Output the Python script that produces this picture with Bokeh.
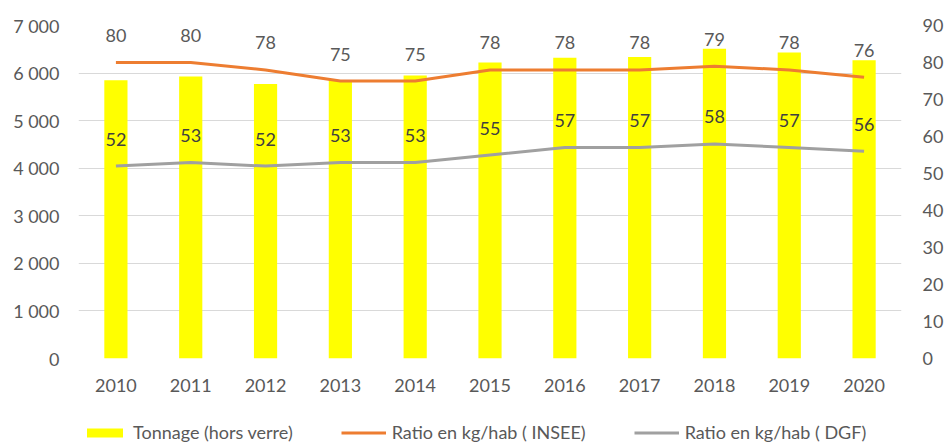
from bokeh.plotting import figure
from bokeh.models import (ColumnDataSource, Range1d, LinearAxis, FixedTicker,
                          LabelSet, Legend, LegendItem, FactorRange)
from bokeh.layouts import column
from bokeh.core.properties import value
from bokeh.embed import file_html
from bokeh.resources import INLINE

years = ["2010", "2011", "2012", "2013", "2014", "2015", "2016", "2017", "2018", "2019", "2020"]
tonnage = [5850, 5930, 5770, 5850, 5950, 6220, 6320, 6340, 6510, 6430, 6270]
ratio_insee = [80, 80, 78, 75, 75, 78, 78, 78, 79, 78, 76]
ratio_dgf = [52, 53, 52, 53, 53, 55, 57, 57, 58, 57, 56]

left_ticks = [0, 1000, 2000, 3000, 4000, 5000, 6000, 7000]
left_tick_labels = ["0", "1 000", "2 000", "3 000", "4 000", "5 000", "6 000", "7 000"]
right_ticks = [0, 10, 20, 30, 40, 50, 60, 70, 80, 90]
series_names = ["Tonnage (hors verre)", "Ratio en kg/hab ( INSEE)", "Ratio en kg/hab ( DGF)"]

FONT = "Lato"
TXT = "#595959"
YELLOW, ORANGE, GREY = "#FFFF00", "#ED7D31", "#A0A0A0"

src = ColumnDataSource(dict(
    year=years, tonnage=tonnage, insee=ratio_insee, dgf=ratio_dgf,
    insee_lbl=[str(v) for v in ratio_insee], dgf_lbl=[str(v) for v in ratio_dgf],
))

p = figure(width=946, height=410, x_range=FactorRange(*years, range_padding=0),
           y_range=Range1d(0, 7000), output_backend="svg", toolbar_location=None,
           min_border_left=78, min_border_right=45, min_border_top=25, min_border_bottom=52)
p.extra_y_ranges = {"r": Range1d(0, 90)}
p.outline_line_color = None
p.background_fill_color = "white"
p.border_fill_color = "white"

p.vbar(x="year", top="tonnage", width=0.31, source=src, color=YELLOW, line_color=None)
p.line(x="year", y="insee", source=src, y_range_name="r", line_color=ORANGE, line_width=3)
p.line(x="year", y="dgf", source=src, y_range_name="r", line_color=GREY, line_width=3)

p.add_layout(LabelSet(x="year", y="insee", text="insee_lbl", source=src, y_range_name="r",
                      y_offset=27, text_align="center", text_baseline="middle",
                      text_font=value(FONT), text_font_size=value("18px"), text_color=TXT))
p.add_layout(LabelSet(x="year", y="dgf", text="dgf_lbl", source=src, y_range_name="r",
                      y_offset=27, text_align="center", text_baseline="middle",
                      text_font=value(FONT), text_font_size=value("18px"), text_color="#404040"))

p.xgrid.grid_line_color = None
p.ygrid.grid_line_color = "#D9D9D9"
p.ygrid.ticker = FixedTicker(ticks=left_ticks)

def style(ax):
    ax.axis_line_color = None
    ax.major_tick_line_color = None
    ax.minor_tick_line_color = None
    ax.major_label_text_font = FONT
    ax.major_label_text_font_size = "18px"
    ax.major_label_text_color = TXT

ya = p.yaxis[0]
ya.ticker = FixedTicker(ticks=left_ticks)
ya.major_label_overrides = {t: s for t, s in zip(left_ticks, left_tick_labels)}
style(ya)
ya.major_label_standoff = 13

ra = LinearAxis(y_range_name="r", ticker=FixedTicker(ticks=right_ticks))
style(ra)
ra.major_label_standoff = 15
p.add_layout(ra, "right")

xa = p.xaxis[0]
style(xa)
xa.major_label_standoff = 14

# legend strip (separate small figure below the chart; its frame aligns with the chart's)
lf = figure(width=946, height=34, x_range=Range1d(0, 1), y_range=Range1d(0, 1),
            output_backend="svg", toolbar_location=None,
            min_border_left=78, min_border_right=45, min_border_top=0, min_border_bottom=0)
lf.axis.visible = False
lf.grid.visible = False
lf.outline_line_color = None
lf.border_fill_color = "white"
hidden = ColumnDataSource(dict(x=[-10], y=[-10]))
r_bar = lf.vbar(x="x", top="y", width=0.1, source=hidden, color=YELLOW, line_color=None)
r_l1 = lf.line(x="x", y="y", source=hidden, line_color=ORANGE, line_width=3)
r_l2 = lf.line(x="x", y="y", source=hidden, line_color=GREY, line_width=3)
legend = Legend(items=[
    LegendItem(label=series_names[0], renderers=[r_bar]),
    LegendItem(label=series_names[1], renderers=[r_l1]),
    LegendItem(label=series_names[2], renderers=[r_l2]),
], orientation="horizontal", location=(4, 1), glyph_width=45, glyph_height=11,
    label_standoff=6, spacing=48, padding=0, margin=0,
    label_text_font=FONT, label_text_font_size="18px", label_text_color=TXT,
    border_line_color=None, background_fill_alpha=0)
lf.add_layout(legend, "center")

layout = column(p, lf, spacing=0)
open("out.html", "w").write(file_html(layout, INLINE))
